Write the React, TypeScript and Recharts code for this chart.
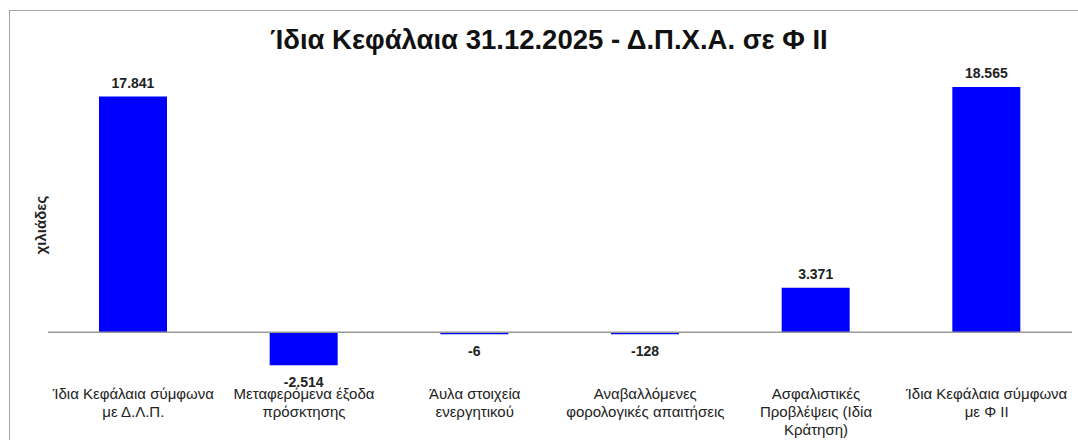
import { BarChart, Bar, XAxis, YAxis, ReferenceLine, LabelList } from 'recharts';

const categories = [
  'Ίδια Κεφάλαια σύμφωνα\nμε Δ.Λ.Π.',
  'Μεταφερόμενα έξοδα\nπρόσκτησης',
  'Άυλα στοιχεία\nενεργητικού',
  'Αναβαλλόμενες\nφορολογικές απαιτήσεις',
  'Ασφαλιστικές\nΠροβλέψεις (Ιδία\nΚράτηση)',
  'Ίδια Κεφάλαια σύμφωνα\nμε Φ ΙΙ',
];

const values = [17841, -2514, -6, -128, 3371, 18565];

const yDomain = [-4000, 20000];

const data = categories.map((name, i) => ({ name, value: values[i] }));

const FONT = '"Liberation Sans", Arial, sans-serif';

const fmt = (v: number) =>
  (v < 0 ? '-' : '') +
  Math.abs(v)
    .toString()
    .replace(/\B(?=(\d{3})+(?!\d))/g, '.');

// eslint-disable-next-line @typescript-eslint/no-explicit-any
const CategoryTick = ({ x, y, payload }: any) => {
  const lines = String(payload.value).split('\n');
  return (
    <text
      x={x}
      y={y}
      textAnchor="middle"
      fontFamily={FONT}
      fontSize={15}
      fill="#222"
    >
      {lines.map((line, i) => (
        <tspan key={i} x={x} dy={i === 0 ? 13.5 : 18}>
          {line}
        </tspan>
      ))}
    </text>
  );
};

// eslint-disable-next-line @typescript-eslint/no-explicit-any
const ValueLabel = ({ x, y, width, height, value }: any) => {
  const v = Number(value);
  const cx = x + width / 2;
  // positive: above bar top, negative: below bar bottom
  const top = Math.min(y, y + height);
  const bottom = Math.max(y, y + height);
  const ty = v >= 0 ? top - 9 : bottom + 22;
  return (
    <text
      x={cx}
      y={ty}
      textAnchor="middle"
      fontFamily={FONT}
      fontSize={14}
      fontWeight="bold"
      fill="#222"
    >
      {fmt(v)}
    </text>
  );
};

export default function App() {
  return (
    <div
      style={{
        position: 'absolute',
        left: 0,
        top: 0,
        width: 1078,
        height: 440,
        overflow: 'hidden',
        background: '#fff',
      }}
    >
      <div
        style={{
          position: 'absolute',
          left: 9,
          top: 10,
          width: 1100,
          height: 460,
          border: '1px solid #a6a6a6',
        }}
      />
      <div
        style={{
          position: 'absolute',
          left: 0,
          top: 24,
          width: 1098,
          textAlign: 'center',
          fontFamily: FONT,
          fontWeight: 'bold',
          fontSize: 27.5,
          color: '#111',
        }}
      >
        Ίδια Κεφάλαια 31.12.2025 - Δ.Π.Χ.Α. σε Φ ΙΙ
      </div>
      <div
        style={{
          position: 'absolute',
          left: 40,
          top: 225,
          transform: 'translate(-50%, -50%) rotate(-90deg)',
          fontFamily: FONT,
          fontWeight: 'bold',
          fontSize: 15,
          color: '#222',
          whiteSpace: 'nowrap',
        }}
      >
        χιλιάδες
      </div>
      <div style={{ position: 'absolute', left: 0, top: 0 }}>
        <BarChart
          width={1078}
          height={440}
          data={data}
          margin={{ top: 68, right: 6, bottom: 0, left: 48 }}
          barCategoryGap={0}
        >
          <XAxis
            dataKey="name"
            axisLine={false}
            tickLine={false}
            tickSize={0}
            tickMargin={0}
            height={55}
            interval={0}
            tick={<CategoryTick />}
          />
          <YAxis hide domain={yDomain} />
          <Bar
            dataKey="value"
            fill="#0000ff"
            barSize={68}
            minPointSize={2}
            isAnimationActive={false}
          >
            <LabelList dataKey="value" content={<ValueLabel />} />
          </Bar>
          <ReferenceLine y={0} stroke="#9a9a9a" strokeWidth={1.5} />
        </BarChart>
      </div>
    </div>
  );
}
